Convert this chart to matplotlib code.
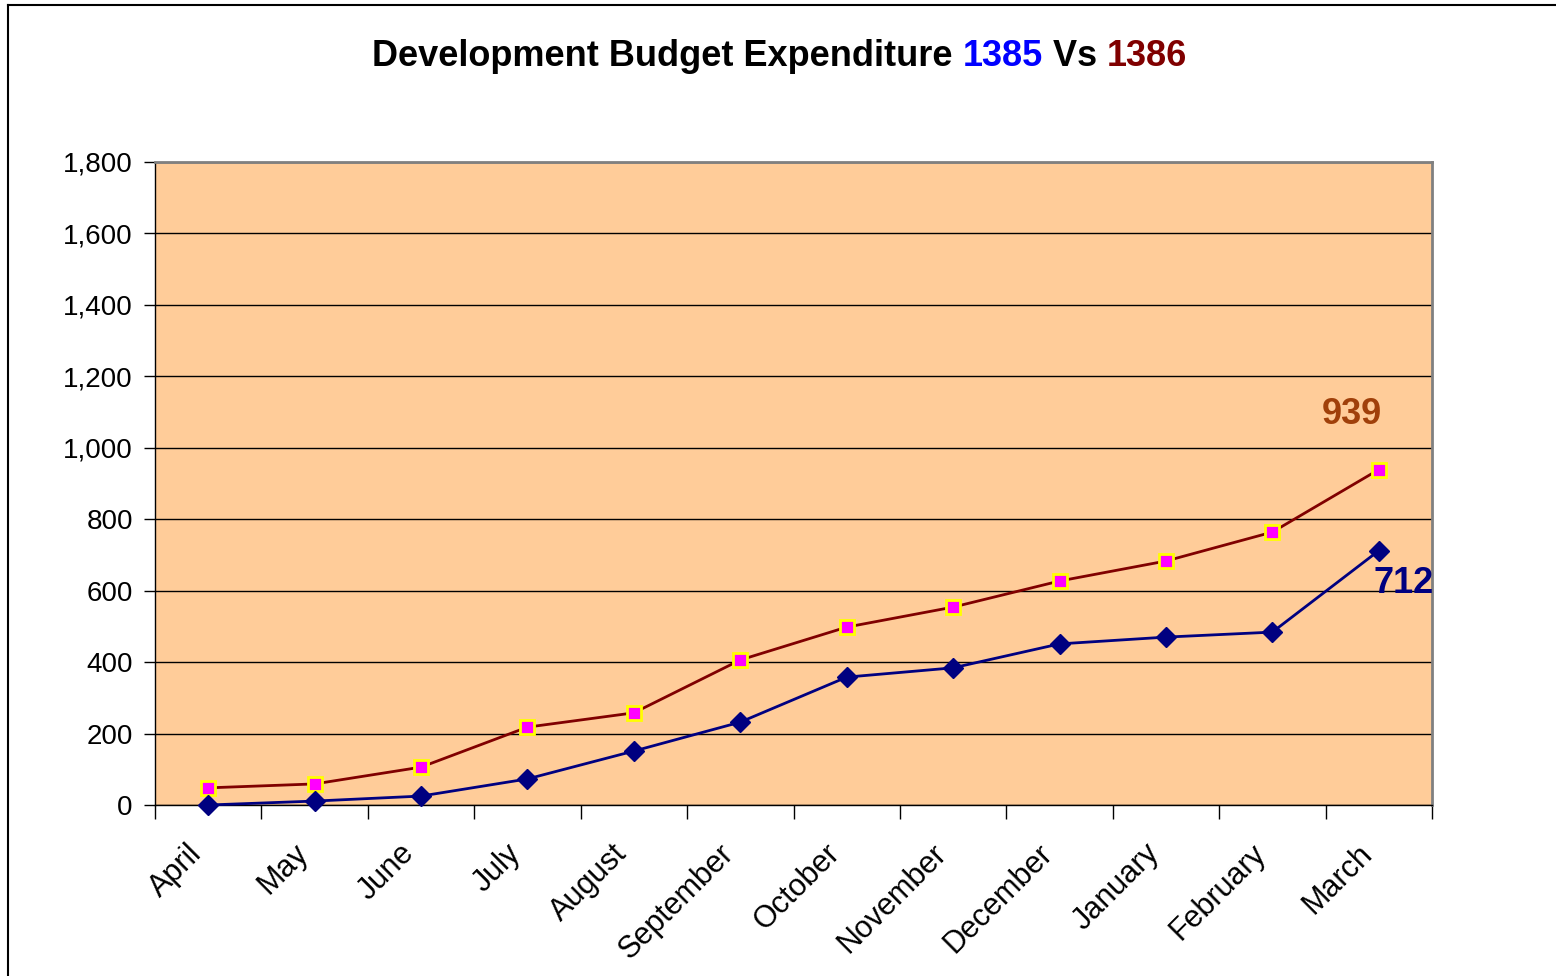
import matplotlib
matplotlib.use("Agg")
import matplotlib.pyplot as plt
import matplotlib.transforms as mtransforms
from matplotlib.lines import Line2D
from matplotlib.ticker import FuncFormatter, MultipleLocator

months = ["April", "May", "June", "July", "August", "September", "October",
          "November", "December", "January", "February", "March"]
exp_1385 = [0, 11, 25, 73, 151, 232, 358, 384, 451, 470, 484, 712]
exp_1386 = [48, 59, 106, 218, 258, 406, 498, 554, 627, 683, 764, 939]

plt.rcParams['font.family'] = ['Liberation Sans', 'DejaVu Sans']

fig = plt.figure(figsize=(15.56, 9.76), dpi=100)
W, H = 1556, 976
ax = fig.add_axes([155 / W, 1 - 805 / H, (1432 - 155) / W, (805 - 162) / H])
ax.set_facecolor('#FFCC99')

x = list(range(len(months)))
ax.plot(x, exp_1386, color='#800000', lw=2, marker='s', ms=9.5,
        mfc='#FF00FF', mec='#FFFF00', mew=2, zorder=3, clip_on=False)
ax.plot(x, exp_1385, color='#000080', lw=2, marker='D', ms=10,
        mfc='#000080', mec='#000080', zorder=4, clip_on=False)

ax.set_xlim(-0.5, len(months) - 0.5)
ax.set_ylim(0, 1800)
ax.yaxis.set_major_locator(MultipleLocator(200))
ax.yaxis.set_major_formatter(FuncFormatter(lambda v, p: f"{int(v):,}"))
ax.grid(axis='y', color='black', lw=1)
ax.set_axisbelow(True)

ax.set_xticks([i - 0.5 for i in range(len(months) + 1)])
ax.set_xticklabels([])
ax.set_xticks(x, minor=True)
ax.set_xticklabels(months, minor=True, rotation=45, ha='right',
                   rotation_mode='anchor', fontsize=22)
ax.tick_params(axis='x', which='minor', length=0, pad=24)
ax.tick_params(axis='x', which='major', length=10, width=1, direction='out')
ax.tick_params(axis='y', length=8, width=1, labelsize=20, pad=8)

offset = mtransforms.ScaledTranslation(-22 / 100, 0, fig.dpi_scale_trans)
for lbl in ax.get_xticklabels(minor=True):
    lbl.set_transform(lbl.get_transform() + offset)

for s in ['top', 'right']:
    ax.spines[s].set_color('#808080')
    ax.spines[s].set_linewidth(2)
for s in ['left', 'bottom']:
    ax.spines[s].set_color('black')
    ax.spines[s].set_linewidth(1)

ax.text(10.75, 1092, "939", color='#A0400A', fontsize=26, fontweight='bold',
        ha='center', va='center')
ax.text(11.23, 621, "712", color='#000080', fontsize=26, fontweight='bold',
        ha='center', va='center')

# Multi-coloured title
parts = [("Development Budget Expenditure ", 'black'), ("1385", '#0000FF'),
         (" Vs ", 'black'), ("1386", '#800000')]
last = fig.text(372 / W, 1 - 56 / H, parts[0][0], color=parts[0][1], fontsize=26,
                fontweight='bold', ha='left', va='center')
for txt, col in parts[1:]:
    last = ax.annotate(txt, xy=(1, 0), xycoords=last, color=col, fontsize=26,
                       fontweight='bold', ha='left', va='bottom',
                       annotation_clip=False)

# figure frame lines (top and left)
fig.add_artist(Line2D([8 / W, 1], [1 - 5 / H, 1 - 5 / H], color='black', lw=1.5,
                      transform=fig.transFigure))
fig.add_artist(Line2D([8 / W, 8 / W], [0, 1 - 5 / H], color='black', lw=1.5,
                      transform=fig.transFigure))

fig.savefig('out.png', dpi=100)
